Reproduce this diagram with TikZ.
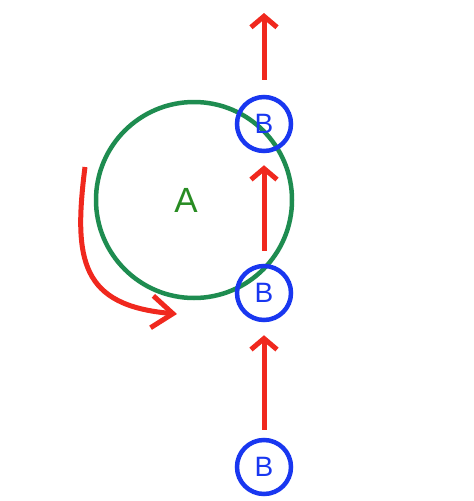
\documentclass[tikz,border=0pt]{standalone}
\usepackage{fontspec}
\setmainfont{Liberation Sans}
\usetikzlibrary{arrows.meta}
\definecolor{myred}{RGB}{240,40,30}
\definecolor{mygreen}{RGB}{30,140,80}
\definecolor{mytextgreen}{RGB}{40,140,35}
\definecolor{myblue}{RGB}{25,55,240}
\begin{document}
\begin{tikzpicture}[x=1pt,y=-1pt,
  bnode/.style={circle,draw=myblue,line width=4.5pt,minimum size=54pt,inner sep=0pt,
    text=myblue,font=\fontsize{28}{28}\selectfont},
  anode/.style={circle,draw=mygreen,line width=4.5pt,minimum size=196pt,inner sep=0pt},
  redarrow/.style={draw=myred,line width=5pt,-{Straight Barb[length=11pt,width=26pt]}},
  bigarrow/.style={draw=myred,line width=5pt,-{Straight Barb[length=21pt,width=32pt]}}]
\useasboundingbox (0,0) rectangle (474,501);
\node[anode,label={[text=mytextgreen,font=\fontsize{35}{35}\selectfont,xshift=-8pt]center:A}] (A) at (194,200) {};
\node[bnode] (B1) at (264,124) {B};
\node[bnode] (B2) at (264,293) {B};
\node[bnode] (B3) at (264,467) {B};
\coordinate (T) at (264,13);
\coordinate (S) at (85,167);
\coordinate (E) at (177,314);
\draw[redarrow,shorten <=15pt] (B1.north) -- (T);
\draw[redarrow,shorten <=13pt,shorten >=12pt] (B2.north) -- (B1.south);
\draw[redarrow,shorten <=8pt,shorten >=13pt] (B3.north) -- (B2.south);
\draw[bigarrow] (S) .. controls (73,261) and (81.5,305.5) .. (E);
\end{tikzpicture}
\end{document}
